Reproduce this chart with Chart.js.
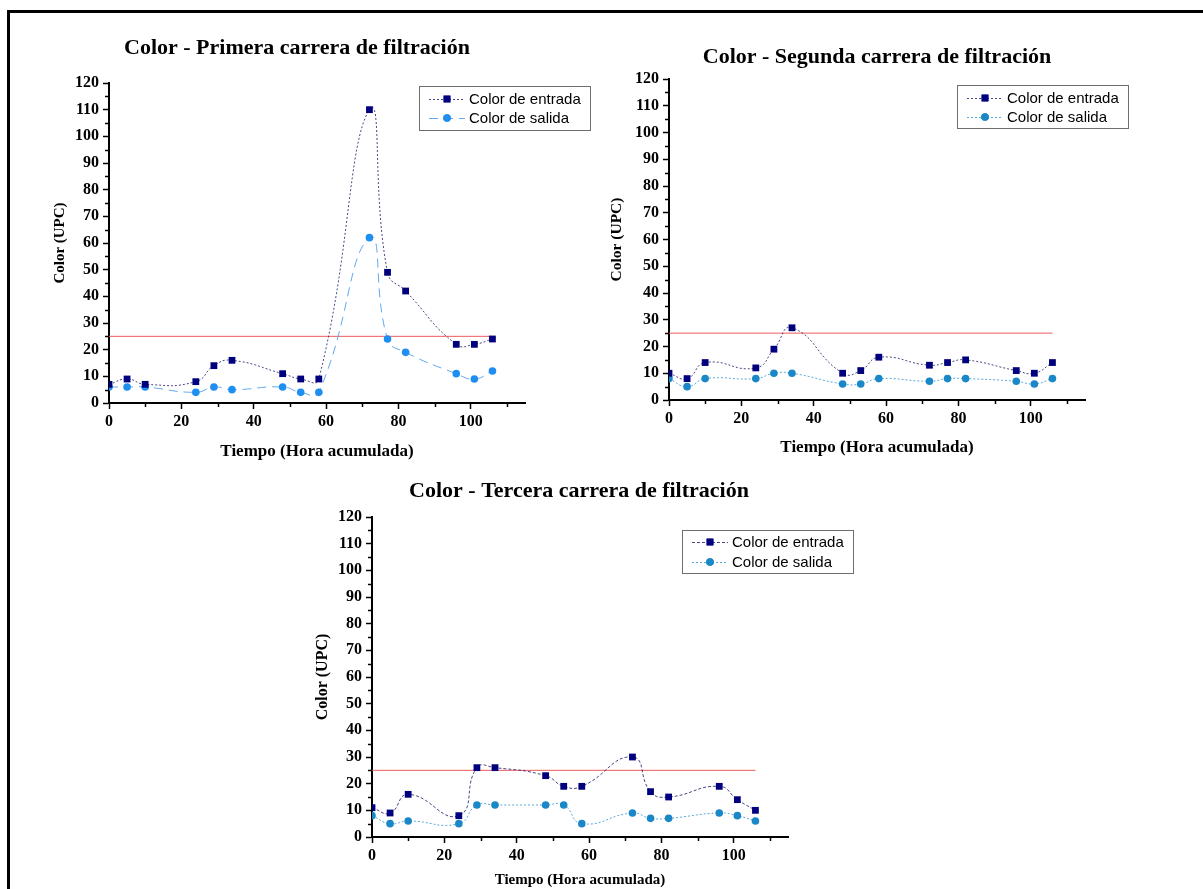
<!DOCTYPE html>
<html>
<head>
<meta charset="utf-8">
<script src="https://cdn.jsdelivr.net/npm/chart.js@4.4.1/dist/chart.umd.min.js"></script>
<style>
html,body{margin:0;padding:0;background:#fff;width:1203px;height:889px;overflow:hidden;}
#frame{position:absolute;left:7px;top:10px;width:1400px;height:1000px;border:3px solid #000;box-sizing:border-box;}
canvas{position:absolute;}
</style>
</head>
<body>
<div id="frame"></div>
<canvas id="c1"></canvas>
<canvas id="c2"></canvas>
<canvas id="c3"></canvas>
<script>
// ---------------- DATA ----------------
const hours = [0, 5, 10, 24, 29, 34, 48, 53, 58, 72, 77, 82, 96, 101, 106];

const entrada1 = [7, 9, 7, 8, 14, 16, 11, 9, 9, 110, 49, 42, 22, 22, 24];
const salida1  = [6, 6, 6, 4, 6, 5, 6, 4, 4, 62, 24, 19, 11, 9, 12];

const entrada2 = [10, 8, 14, 12, 19, 27, 10, 11, 16, 13, 14, 15, 11, 10, 14];
const salida2  = [8, 5, 8, 8, 10, 10, 6, 6, 8, 7, 8, 8, 7, 6, 8];

const entrada3 = [11, 9, 16, 8, 26, 26, 23, 19, 19, 30, 17, 15, 19, 14, 10];
const salida3  = [8, 5, 6, 5, 12, 12, 12, 12, 5, 9, 7, 7, 9, 8, 6];

const limitValue = 25;
const limitHours = [0, 106];

const chartTitles = [
  'Color - Primera carrera de filtración',
  'Color - Segunda carrera de filtración',
  'Color - Tercera carrera de filtración'
];
const seriesLabels = ['Color de entrada', 'Color de salida'];
const xAxisTitle = 'Tiempo (Hora acumulada)';
const yAxisTitle = 'Color (UPC)';

// ---------------- HELPERS ----------------
const toXY = (xs, ys) => xs.map((x, i) => ({x: x, y: ys[i]}));

const minorTicks = {
  id: 'minorTicks',
  afterDraw(chart) {
    const ctx = chart.ctx, xs = chart.scales.x, ys = chart.scales.y, a = chart.chartArea;
    ctx.save();
    ctx.strokeStyle = '#000';
    ctx.lineWidth = 1.5;
    for (let v = 10; v <= 110; v += 20) {
      const px = Math.round(xs.getPixelForValue(v)) + 0.5;
      ctx.beginPath(); ctx.moveTo(px, a.bottom); ctx.lineTo(px, a.bottom + 4); ctx.stroke();
    }
    for (let v = 5; v <= 115; v += 10) {
      const py = Math.round(ys.getPixelForValue(v)) + 0.5;
      ctx.beginPath(); ctx.moveTo(a.left, py); ctx.lineTo(a.left - 4, py); ctx.stroke();
    }
    ctx.restore();
  }
};

const boxLegend = {
  id: 'boxLegend',
  afterDraw(chart, args, o) {
    const ctx = chart.ctx;
    const bx = o.x, by = o.y;
    ctx.save();
    ctx.fillStyle = '#fff';
    ctx.fillRect(bx, by, o.w, o.h);
    ctx.strokeStyle = '#6e6e6e';
    ctx.lineWidth = 1;
    ctx.strokeRect(bx + 0.5, by + 0.5, o.w, o.h);
    let row = 0;
    chart.data.datasets.forEach(ds => {
      if (ds.hideInLegend) return;
      const y = by + o.rows[row];
      ctx.save();
      ctx.strokeStyle = ds.borderColor;
      ctx.lineWidth = ds.borderWidth;
      ctx.setLineDash(ds.borderDash || []);
      ctx.beginPath(); ctx.moveTo(bx + 10, y + 0.5); ctx.lineTo(bx + 46, y + 0.5); ctx.stroke();
      ctx.restore();
      ctx.fillStyle = ds.pointBackgroundColor;
      Chart.helpers.drawPoint(ctx, {pointStyle: ds.pointStyle, radius: ds.pointRadius, rotation: 0, borderWidth: 0}, bx + 28, y);
      ctx.fill();
      ctx.fillStyle = '#000';
      ctx.font = '15px "Liberation Sans", Arial, sans-serif';
      ctx.textBaseline = 'middle';
      ctx.textAlign = 'left';
      ctx.fillText(ds.label, bx + 50, y + 1);
      row++;
    });
    ctx.restore();
  }
};

function build(id, p) {
  const cv = document.getElementById(id);
  cv.width = p.W; cv.height = p.H;
  cv.style.left = p.L + 'px'; cv.style.top = p.T + 'px';
  cv.style.width = p.W + 'px'; cv.style.height = p.H + 'px';
  const serif = '"Liberation Serif", "Times New Roman", serif';
  return new Chart(cv, {
    type: 'line',
    data: {
      datasets: [
        {
          label: seriesLabels[0], data: toXY(hours, p.entrada), xAxisID: 'x', yAxisID: 'y',
          borderColor: p.inLine, borderWidth: 1, borderDash: p.inDash,
          pointStyle: 'rect', pointRadius: 4.8, pointBackgroundColor: '#00007f', pointBorderWidth: 0,
          tension: 0.5, fill: false
        },
        {
          label: seriesLabels[1], data: toXY(hours, p.salida), xAxisID: 'x', yAxisID: 'y',
          borderColor: p.outLine, borderWidth: 1, borderDash: p.outDash,
          pointStyle: 'circle', pointRadius: 3.8, pointBackgroundColor: p.outColor, pointBorderWidth: 0,
          tension: 0.5, fill: false
        },
        {
          label: 'Límite', hideInLegend: true, xAxisID: 'x', yAxisID: 'y',
          data: limitHours.map(h => ({x: h, y: limitValue})),
          borderColor: '#ee5c5c', borderWidth: 1, pointRadius: 0, tension: 0, fill: false
        }
      ]
    },
    options: {
      responsive: false, animation: false, events: [],
      layout: {padding: 0},
      plugins: {
        legend: {display: false},
        tooltip: {enabled: false},
        title: {
          display: true, text: p.title, color: '#000',
          font: {family: serif, size: 22, weight: 'bold', lineHeight: 1},
          padding: {top: p.tTop, bottom: p.tBot}
        },
        boxLegend: p.legend
      },
      scales: {
        x: {
          type: 'linear', position: 'bottom', min: 0, max: 115,
          ticks: {stepSize: 20, includeBounds: false, autoSkip: false, maxRotation: 0, padding: 3, color: '#000',
                  font: {family: serif, size: 16, weight: 'bold'}},
          grid: {drawOnChartArea: false, drawTicks: true, tickLength: 6, tickColor: '#000', tickWidth: 1.5},
          border: {display: true, color: '#000', width: 2},
          title: {display: true, text: xAxisTitle, color: '#000',
                  font: {family: serif, size: p.xtSize, weight: 'bold', lineHeight: 1.2},
                  padding: {top: 0, bottom: p.xtPad}},
          afterFit: s => { s.height = p.xH; }
        },
        y: {
          type: 'linear', position: 'left', min: 0, max: 120,
          ticks: {stepSize: 10, autoSkip: false, padding: 4, color: '#000',
                  font: {family: serif, size: 16, weight: 'bold'}},
          grid: {drawOnChartArea: false, drawTicks: true, tickLength: 6, tickColor: '#000', tickWidth: 1.5},
          border: {display: true, color: '#000', width: 2},
          title: {display: true, text: yAxisTitle, color: '#000',
                  font: {family: serif, size: p.ytSize, weight: 'bold', lineHeight: 1.2},
                  padding: {top: p.ytPad, bottom: 0}},
          afterFit: s => { s.width = p.yW; }
        },
        r: {
          type: 'linear', position: 'right', display: true,
          grid: {display: false}, ticks: {display: false}, border: {display: false},
          afterFit: s => { s.width = p.rW; }
        }
      }
    },
    plugins: [minorTicks, boxLegend]
  });
}

build('c1', {
  L: -10, T: 20, W: 614, H: 447, yW: 119, rW: 79, xH: 64,
  tTop: 17, tBot: 24, ytSize: 15, ytPad: 61, xtSize: 17, xtPad: 5,
  title: chartTitles[0], entrada: entrada1, salida: salida1,
  inLine: 'rgba(40,40,110,0.85)', inDash: [2, 2],
  outLine: 'rgba(80,160,235,0.9)', outDash: [9, 6], outColor: '#1e8ff0',
  legend: {x: 429, y: 66, w: 171, h: 44, rows: [13, 32]}
});

build('c2', {
  L: 580, T: 20, W: 594, H: 443, yW: 89, rW: 89, xH: 63,
  tTop: 26, tBot: 11, ytSize: 15.5, ytPad: 28, xtSize: 17, xtPad: 5,
  title: chartTitles[1], entrada: entrada2, salida: salida2,
  inLine: 'rgba(40,40,110,0.85)', inDash: [2, 2],
  outLine: 'rgba(70,160,215,0.9)', outDash: [2, 2], outColor: '#1a88c6',
  legend: {x: 377, y: 65, w: 171, h: 43, rows: [13, 32]}
});

build('c3', {
  L: 280, T: 460, W: 598, H: 431, yW: 92, rW: 90, xH: 54,
  tTop: 20, tBot: 15, ytSize: 16, ytPad: 33, xtSize: 15, xtPad: 2,
  title: chartTitles[2], entrada: entrada3, salida: salida3,
  inLine: 'rgba(40,40,110,0.85)', inDash: [3, 2],
  outLine: 'rgba(70,160,215,0.9)', outDash: [2, 2], outColor: '#1a88c6',
  legend: {x: 402, y: 70, w: 171, h: 43, rows: [12, 32]}
});
</script>
</body>
</html>
